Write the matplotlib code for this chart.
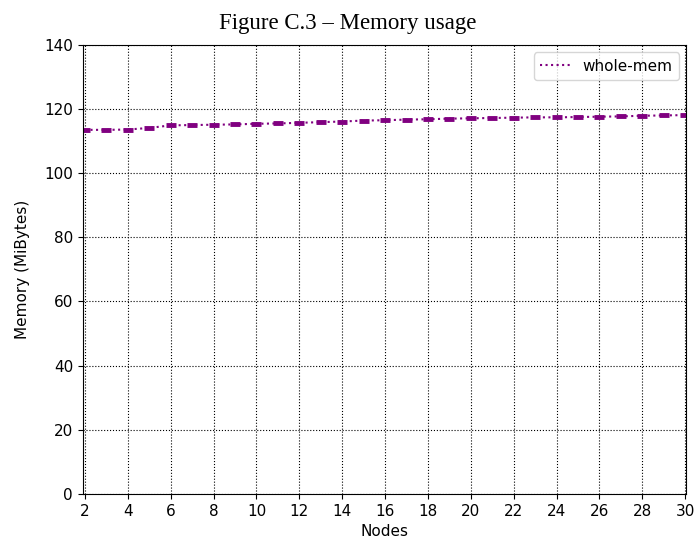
import matplotlib.pyplot as plt

nodes = list(range(2, 31))
whole_mem = [113.5, 113.5, 113.6, 114.1, 114.9, 115.0, 115.1, 115.2, 115.4, 115.5,
             115.7, 115.9, 116.1, 116.4, 116.5, 116.7, 116.8, 117.0, 117.1, 117.2,
             117.3, 117.4, 117.4, 117.5, 117.6, 117.7, 117.9, 118.0, 118.1]

fig = plt.figure(figsize=(6.96, 5.47), dpi=100)
ax = fig.add_axes([0.119, 0.097, 0.867, 0.821])

# dotted line for the legend, thick dashes at each sample
ax.plot(nodes, whole_mem, linestyle=':', color='purple', linewidth=1.5, label='whole-mem')
ax.plot(nodes, whole_mem, linestyle='none', marker='_', markersize=7, markeredgewidth=3.5,
        color='purple')

ax.set_xlim(1.9, 30.05)
ax.set_ylim(0, 140)
ax.set_xticks(range(2, 31, 2))
ax.set_yticks(range(0, 141, 20))
ax.tick_params(labelsize=11)
ax.grid(True, color='black', linestyle=':', linewidth=0.8)

ax.set_xlabel('Nodes', fontsize=11)
ax.set_ylabel('Memory (MiBytes)', fontsize=11, labelpad=10)
fig.suptitle('Figure C.3 – Memory usage', fontsize=16.5, family='Liberation Serif', y=0.977)
ax.legend(loc='upper right', fontsize=11)

fig.savefig('out.png', dpi=100)
